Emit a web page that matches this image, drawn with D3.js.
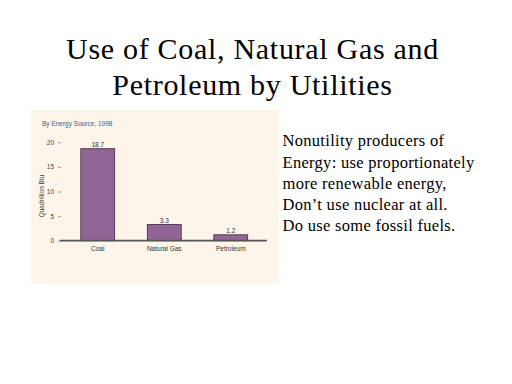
<!DOCTYPE html>
<html><head><meta charset="utf-8">
<script src="https://cdn.jsdelivr.net/npm/d3@7"></script>
<style>html,body{margin:0;padding:0;background:#fff;}svg{display:block;}</style>
</head><body>
<script>
const categories = ["Coal", "Natural Gas", "Petroleum"];
const values = [18.7, 3.3, 1.2];
const valueLabels = ["18.7", "3.3", "1.2"];
const yTicks = [0, 5, 10, 15, 20];
const titleLines = ["Use of Coal, Natural Gas and", "Petroleum by Utilities"];
const noteLines = ["Nonutility producers of", "Energy: use proportionately", "more renewable energy,", "Don\u2019t use nuclear at all.", "Do use some fossil fuels."];
const chartTitle = "By Energy Source, 1998";
const yTitle = "Quadrillion Btu";

const svg = d3.select("body").append("svg").attr("width", 512).attr("height", 384);
svg.append("rect").attr("width", 512).attr("height", 384).attr("fill", "#fff");

svg.selectAll("text.title").data(titleLines).enter().append("text")
  .attr("x", 252.5).attr("y", (d, i) => 58.5 + i * 36.5)
  .attr("text-anchor", "middle")
  .attr("font-family", "Liberation Serif, Times New Roman, serif")
  .attr("font-size", 30).attr("letter-spacing", 0.7).attr("fill", "#000").text(d => d);

svg.selectAll("text.note").data(noteLines).enter().append("text")
  .attr("x", 282.5).attr("y", (d, i) => 146.3 + i * 21.2)
  .attr("font-family", "Liberation Serif, Times New Roman, serif")
  .attr("font-size", 16.5).attr("letter-spacing", 0.3).attr("fill", "#000").text(d => d);

// chart panel
svg.append("rect").attr("x", 31).attr("y", 110).attr("width", 248).attr("height", 174).attr("fill", "#fdf5e9");

const x = d3.scaleBand().domain(categories).range([64.5, 264]).paddingInner(0.49).paddingOuter(0.245);
const y = d3.scaleLinear().domain([0, 20]).range([240.7, 142.3]);

const g = svg.append("g");
g.append("text").attr("x", 42).attr("y", 126).attr("font-family", "Liberation Sans, Arial, sans-serif")
  .attr("font-size", 6.5).attr("fill", "#4a5a78").text(chartTitle);

const yAxis = g.append("g").attr("transform", "translate(61,0)")
  .call(d3.axisLeft(y).tickValues(yTicks).tickSize(3).tickPadding(4));
yAxis.select(".domain").remove();
yAxis.selectAll("line").attr("stroke", "#777").attr("stroke-width", 0.7);
yAxis.selectAll("text").attr("font-family", "Liberation Sans, Arial, sans-serif").attr("font-size", 6.5).attr("fill", "#444");

g.append("text").attr("transform", "translate(44," + 196 + ") rotate(-90)")
  .attr("text-anchor", "middle").attr("font-family", "Liberation Sans, Arial, sans-serif")
  .attr("font-size", 6.5).attr("fill", "#444").text(yTitle);

g.selectAll("rect.bar").data(values).enter().append("rect")
  .attr("x", (d, i) => x(categories[i])).attr("width", x.bandwidth())
  .attr("y", d => y(d)).attr("height", d => y(0) - y(d))
  .attr("fill", "#916496").attr("stroke", "#3b2a3c").attr("stroke-width", 0.8);

g.selectAll("text.vl").data(values).enter().append("text")
  .attr("x", (d, i) => x(categories[i]) + x.bandwidth() / 2).attr("y", d => y(d) - 1.5)
  .attr("text-anchor", "middle").attr("font-family", "Liberation Sans, Arial, sans-serif")
  .attr("font-size", 6.5).attr("fill", "#333").text((d, i) => valueLabels[i]);

const xAxis = g.append("g").attr("transform", "translate(0," + y(0) + ")")
  .call(d3.axisBottom(x).tickSize(0).tickPadding(6));
xAxis.select(".domain").remove();
xAxis.selectAll("text").attr("font-family", "Liberation Sans, Arial, sans-serif").attr("font-size", 6.5).attr("fill", "#333");
g.append("line").attr("x1", 60).attr("x2", 267).attr("y1", y(0)).attr("y2", y(0))
  .attr("stroke", "#555").attr("stroke-width", 1.8);
</script>
</body></html>
